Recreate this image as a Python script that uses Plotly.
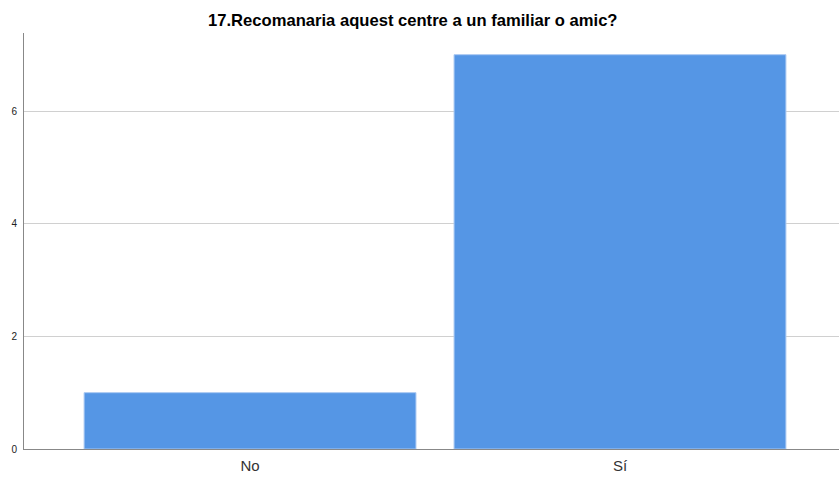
import plotly.graph_objects as go

# Response categories and counts
categories = ["No", "Sí"]
counts = [1, 7]
title_text = "17.Recomanaria aquest centre a un familiar o amic?"
y_ticks = [0, 2, 4, 6]

fig = go.Figure(
    go.Bar(
        x=categories,
        y=counts,
        width=0.897,
        marker=dict(color="#5596E5", line=dict(color="#A9C8F2", width=1)),
        hoverinfo="x+y",
    )
)

fig.update_layout(
    width=839,
    height=477,
    margin=dict(l=24, r=0, t=33, b=28),
    paper_bgcolor="white",
    plot_bgcolor="white",
    showlegend=False,
    font=dict(family="Liberation Sans, Arial, sans-serif", color="#000000"),
    title=dict(
        text="<b>" + title_text + "</b>",
        x=0.492,
        xanchor="center",
        y=0.958,
        yanchor="middle",
        font=dict(size=16.6, color="#000000"),
    ),
)

fig.update_xaxes(
    range=[-0.611, 1.592],
    showgrid=False,
    showline=True,
    linecolor="#888888",
    linewidth=1,
    ticks="",
    ticklabelstandoff=3,
    tickfont=dict(size=15, color="#333333"),
    zeroline=False,
)

fig.update_yaxes(
    range=[0, 7.385],
    tickvals=y_ticks,
    showgrid=True,
    gridcolor="#D0D0D0",
    gridwidth=1,
    showline=True,
    linecolor="#888888",
    linewidth=1,
    ticks="",
    ticklabelstandoff=4,
    tickfont=dict(size=10, color="#222222"),
    zeroline=False,
)

fig.write_html("out.html")
